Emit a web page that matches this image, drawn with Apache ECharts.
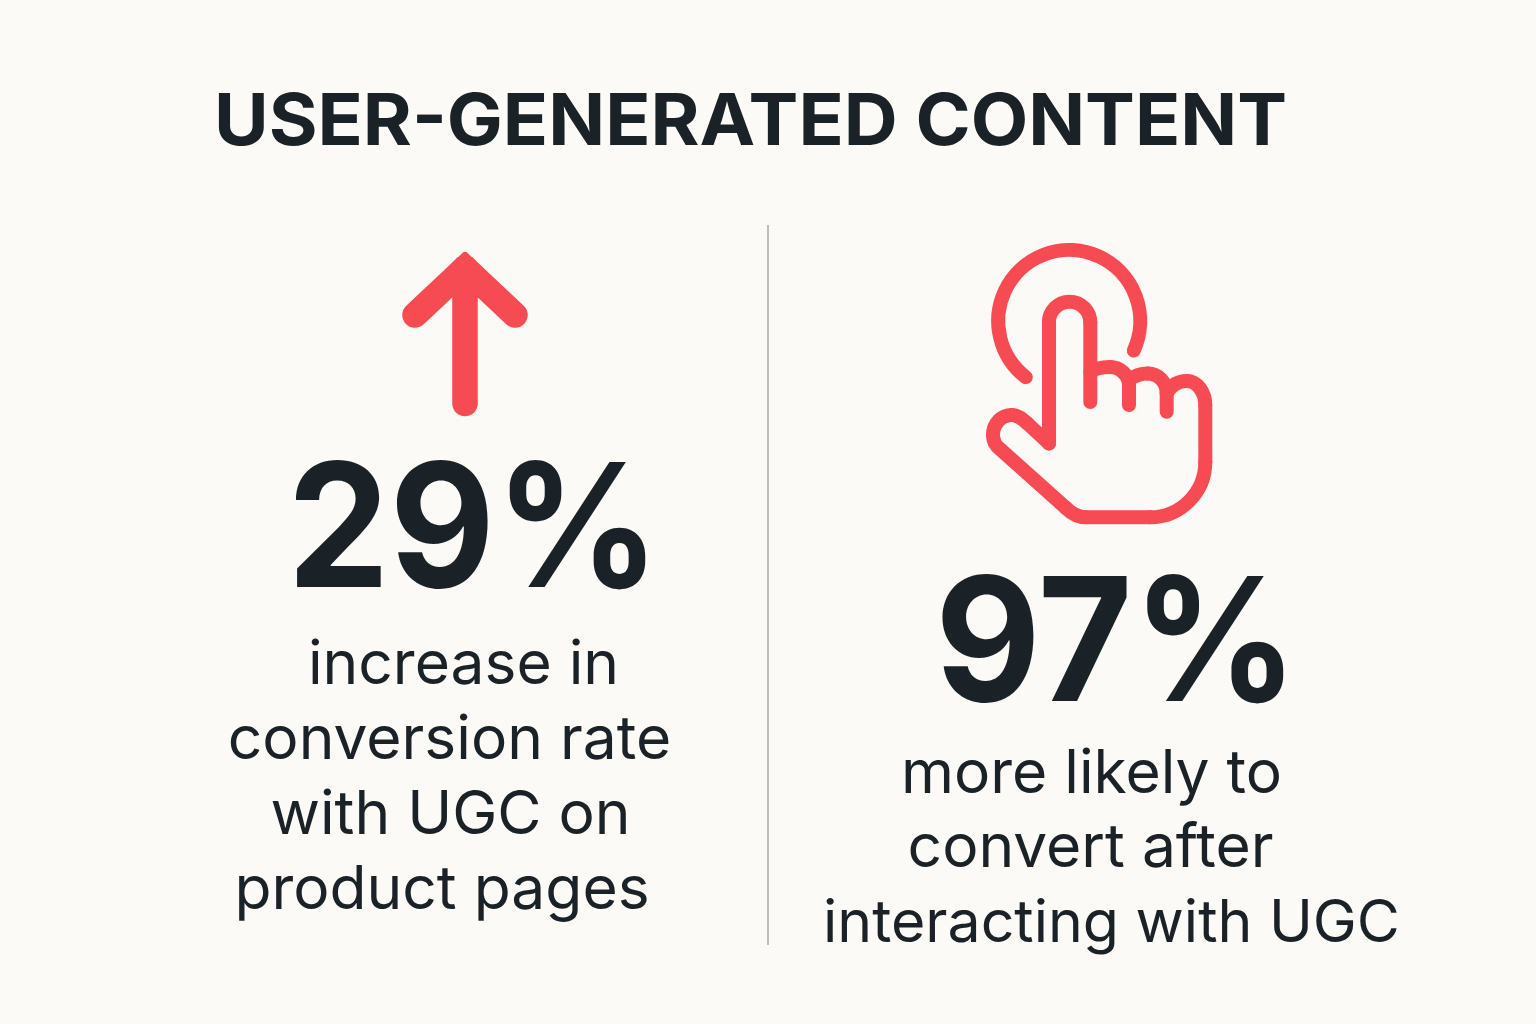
<!DOCTYPE html>
<html>
<head>
<meta charset="utf-8">
<title>User-generated content</title>
<script src="https://cdn.jsdelivr.net/npm/echarts@6/dist/echarts.min.js"></script>
<style>
    html, body { margin: 0; padding: 0; background: #fbfaf6; }
    #chart { width: 1536px; height: 1024px; }
</style>
</head>
<body>
<div id="chart"></div>
<script>
var titleText = 'USER-GENERATED CONTENT';
var statLabels = ['29%', '97%'];
var captionsLeft = ['increase in', 'conversion rate', 'with UGC on', 'product pages'];
var captionsRight = ['more likely to', 'convert after', 'interacting with UGC'];

var FONT = 'Inter, "Noto Sans", sans-serif';
var INK = '#1b2227';
var RED = '#f74b53';

//文字 横向居中, stretch 为横向缩放
function label(text, cx, cy, size, weight, stretch) {
    return {
        type: 'text',
        x: cx,
        y: cy,
        scaleX: stretch || 1,
        style: {
            x: 0, y: 0, text: text, fill: INK,
            font: weight + ' ' + size + 'px ' + FONT,
            textAlign: 'center', textVerticalAlign: 'middle'
        }
    };
}

function pen(width) {
    return { stroke: RED, fill: null, lineWidth: width, lineCap: 'round', lineJoin: 'round' };
}

function seg(x1, y1, x2, y2, width) {
    return { type: 'line', shape: { x1: x1, y1: y1, x2: x2, y2: y2 }, style: pen(width) };
}

function curve(p, width) {
    return {
        type: 'bezierCurve',
        shape: { x1: p[0], y1: p[1], cpx1: p[2], cpy1: p[3], cpx2: p[4], cpy2: p[5], x2: p[6], y2: p[7] },
        style: pen(width)
    };
}

function arc(cx, cy, r, from, to, width) {
    return {
        type: 'arc',
        shape: { cx: cx, cy: cy, r: r, startAngle: from, endAngle: to, clockwise: false },
        style: pen(width)
    };
}

//向上箭头
function arrowIcon() {
    return [
        seg(465, 268, 465, 403.5, 25.5),
        { type: 'polyline', shape: { points: [[415, 315], [465, 268], [515, 315]] }, style: pen(25.5) },
        {
            type: 'polygon',
            shape: { points: [[465, 256], [440, 281], [490, 281]] },
            style: { fill: RED, stroke: RED, lineWidth: 8, lineJoin: 'round' }
        }
    ];
}

//手指点击图标
function handIcon() {
    var w = 14;
    return [
        arc(1069.2, 321, 71, 24.6 * Math.PI / 180, 127.7 * Math.PI / 180, w),
        seg(1090.3, 402, 1090.3, 322.4, w),
        arc(1069.6, 322.4, 20.7, 0, Math.PI, w),
        seg(1049, 322.4, 1049, 443.5, w),
        seg(1049, 443.5, 1027, 423, w),
        curve([1027, 423, 1021, 418, 1017, 415, 1012, 415], w),
        curve([1012, 415, 1001, 415, 993, 424, 993, 435], w),
        curve([993, 435, 993, 442, 996, 446, 1000, 449], w),
        seg(1000, 449, 1066, 508, w),
        curve([1066, 508, 1072, 514, 1078, 517.3, 1086, 517.3], w),
        seg(1086, 517.3, 1150, 517.3, w),
        curve([1150, 517.3, 1180.5, 517.3, 1205.3, 492.5, 1205.3, 462], w),
        seg(1205.3, 462, 1205.3, 405, w),
        curve([1205.3, 405, 1205.3, 392, 1197, 381, 1186.7, 381], w),
        curve([1186.7, 381, 1178, 381, 1171, 386, 1166.7, 393], w),
        seg(1166.7, 393, 1166.7, 411.7, w),
        curve([1090.3, 372, 1096, 368, 1103, 367, 1110, 367], w),
        curve([1110, 367, 1120, 367, 1129, 375, 1129, 385], w),
        seg(1129, 385, 1129, 405, w),
        curve([1129, 380, 1134, 376, 1141, 373.5, 1148, 373.5], w),
        curve([1148, 373.5, 1158, 373.5, 1166.7, 382, 1166.7, 393], w)
    ];
}

var leftCenters = [463.5, 449.5, 450.5, 442];
var leftMiddles = [666, 741, 816, 891];
var rightCenters = [1091.5, 1090.5, 1111.5];
var rightMiddles = [775, 849, 924];

var elements = [];
elements.push(label(titleText, 750.5, 123, 72, 700, 1.037));
elements.push({
    type: 'line',
    shape: { x1: 768, y1: 225, x2: 768, y2: 945 },
    style: { stroke: '#a9a9a7', lineWidth: 1.5 }
});
elements.push(label(statLabels[0], 473.5, 535, 172, 700, 0.944));
elements.push(label(statLabels[1], 1116.5, 649, 172, 700, 0.947));
for (var i = 0; i < captionsLeft.length; i++) {
    elements.push(label(captionsLeft[i], leftCenters[i], leftMiddles[i], 60.5, 400));
}
for (var j = 0; j < captionsRight.length; j++) {
    elements.push(label(captionsRight[j], rightCenters[j], rightMiddles[j], j == 2 ? 59 : 60.5, 400));
}
elements = elements.concat(arrowIcon(), handIcon());

var chart = echarts.init(document.getElementById('chart'));
chart.setOption({
    backgroundColor: '#fbfaf6',
    animation: false,
    graphic: { elements: elements }
});
</script>
</body>
</html>
